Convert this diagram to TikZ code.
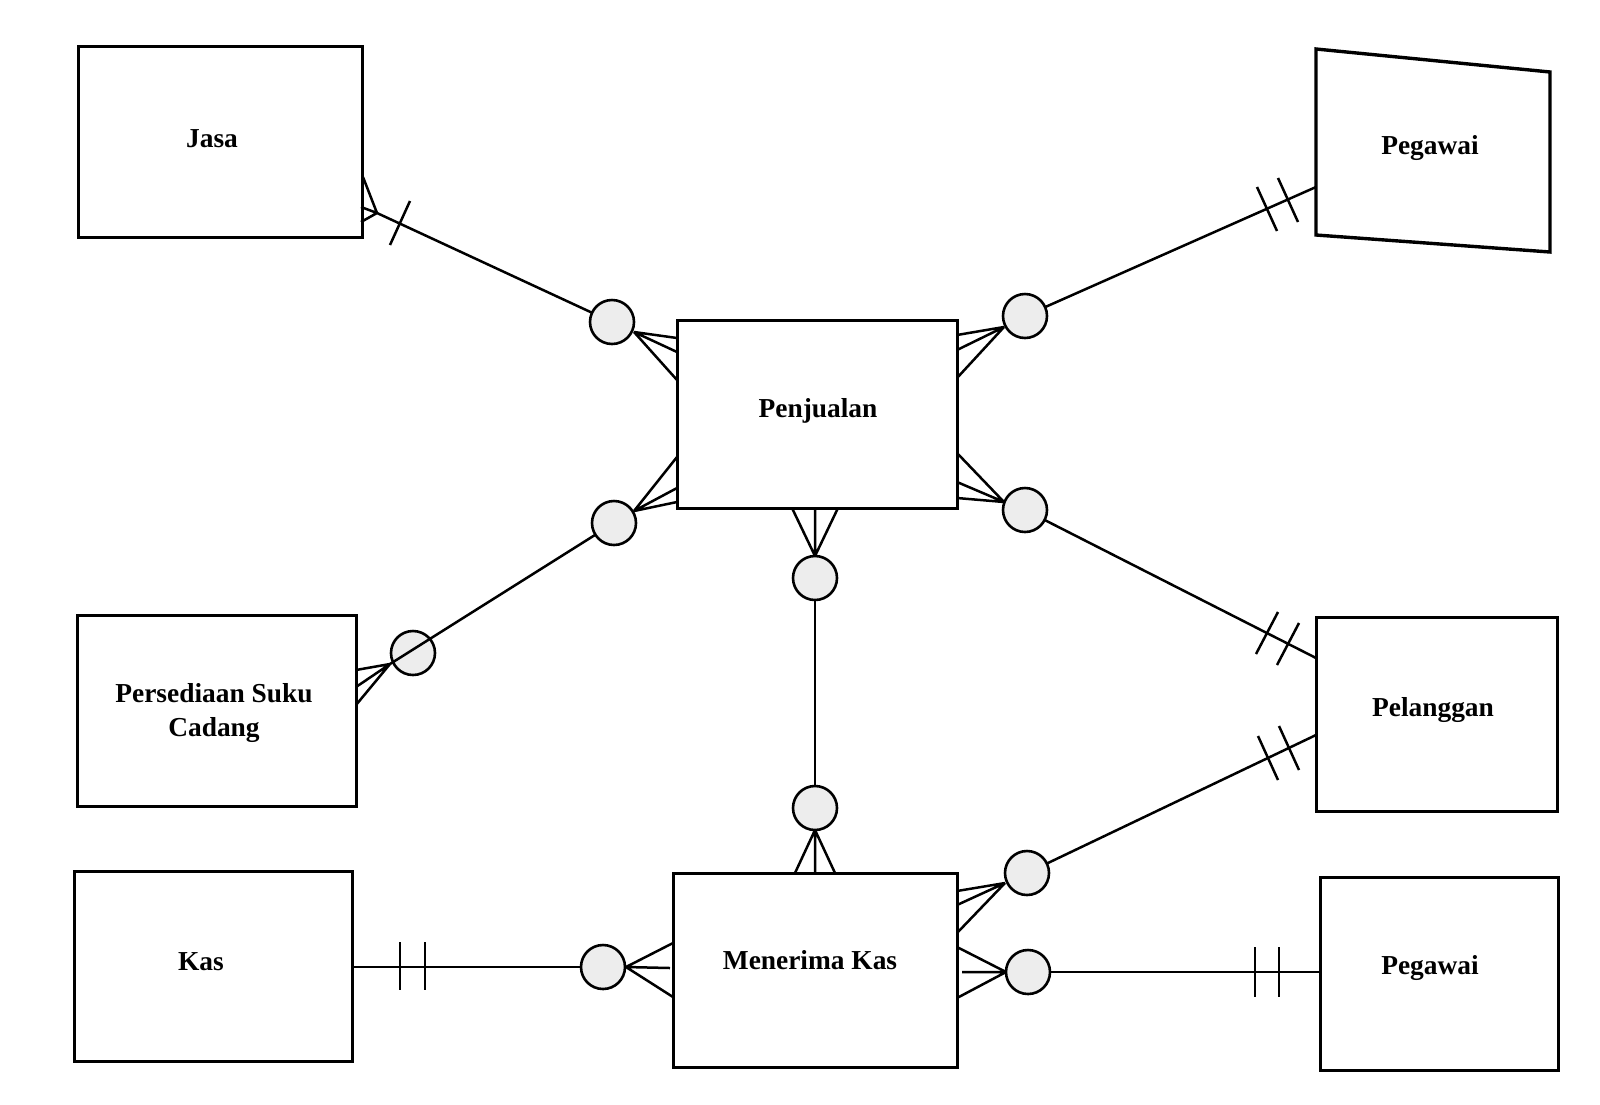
\documentclass[tikz,border=0pt]{standalone}
\usepackage{fontspec}
\setmainfont{Liberation Serif}
\begin{document}
\begin{tikzpicture}[x=0.5pt,y=-0.5pt,
  ent/.style={draw, line width=1.5pt, inner sep=0pt, outer sep=0pt},
  lbl/.style={font=\fontsize{13.7}{17}\selectfont\bfseries, inner sep=0pt, text height=9.3pt, text depth=0pt},
  lblm/.style={font=\fontsize{13.7}{17}\selectfont\bfseries, inner sep=0pt, align=center},
  oc/.style={circle, draw, line width=1.3pt, fill=black!7, minimum size=22pt, inner sep=0pt, outer sep=0pt},
  rel/.style={line width=1.25pt},
  bar/.style={line width=1.25pt}
]
\useasboundingbox (0,0) rectangle (1600,1104);
\fill[white] (0,0) rectangle (1600,1104);

% entity boxes
\node[ent, minimum width=142pt, minimum height=95.5pt] (jasa) at (220,141.5) {};
\node[ent, minimum width=140pt, minimum height=94pt] (penj) at (817,414) {};
\node[ent, minimum width=139.5pt, minimum height=95.5pt] (pers) at (216.5,710.5) {};
\node[ent, minimum width=120.5pt, minimum height=97pt] (pel) at (1436.5,714) {};
\node[ent, minimum width=139pt, minimum height=95pt] (kas) at (213,966) {};
\node[ent, minimum width=142pt, minimum height=97pt] (mk) at (815,970) {};
\node[ent, minimum width=119pt, minimum height=96.5pt] (pegB) at (1439,973.5) {};
\coordinate (pgq1) at (1316,49);
\coordinate (pgq2) at (1550,72);
\coordinate (pgq3) at (1550,252);
\coordinate (pgq4) at (1316,235);
\draw[line width=1.7pt] (pgq1) -- (pgq2) -- (pgq3) -- (pgq4) -- cycle;

% labels
\node[lbl] (jasaT) at (212,138) {Jasa};
\node[lbl] (pegAT) at (1430,145) {Pegawai};
\node[lbl] (penjT) at (818,408) {Penjualan};
\node[lblm] (persT) at (214,713) {Persediaan Suku\\Cadang};
\node[lbl] (pelT) at (1433,707) {Pelanggan};
\node[lbl] (kasT) at (201,961) {Kas};
\node[lbl] (mkT) at (810,960) {Menerima Kas};
\node[lbl] (pegBT) at (1430,965) {Pegawai};

% optional circles
\node[oc] (c1) at (612,322) {};
\node[oc] (c2) at (1025,316) {};
\node[oc] (c3) at (614,523) {};
\node[oc] (c4) at (413,653) {};
\node[oc] (c5) at (1025,510) {};
\node[oc] (c6) at (815,578) {};
\node[oc] (c7) at (815,808) {};
\node[oc] (c8) at (603,967) {};
\node[oc] (c9) at (1027,873) {};
\node[oc] (c10) at (1028,972) {};

% crow's foot tips and line ends
\coordinate (tJ) at (377,213);
\coordinate (t1) at (634,332);
\coordinate (t2) at (1004,327);
\coordinate (t3) at (634,511);
\coordinate (tP) at (390,664);
\coordinate (t5) at (1004,502);
\coordinate (t6) at (815,556);
\coordinate (t7) at (815,830);
\coordinate (t8) at (626,967);
\coordinate (t9) at (1005,883);
\coordinate (t10) at (1006,972);
\coordinate (pgA) at (1316,187);
\coordinate (plA) at (1316,658);
\coordinate (plB) at (1316,735);
\coordinate (pgBin) at (1320,972);
\coordinate (ksA) at (352,967);

% connectors
\draw[rel] (tJ) -- (c1);
\draw[rel] (c2) -- (pgA);
\draw[rel] (c3) -- (tP);
\draw[rel] (c5) -- (plA);
\draw[rel] (c6) -- (c7);
\draw[rel] (ksA) -- (c8);
\draw[rel] (c9) -- (plB);
\draw[rel] (c10) -- (pgBin);

% crow's feet
\draw[rel] (tJ) -- (363,177) (tJ) -- (361,207) (tJ) -- (361,222);
\draw[rel] (t1) -- (677,338) (t1) -- (677,352) (t1) -- (677,380);
\draw[rel] (t2) -- (957,335) (t2) -- (957,350) (t2) -- (957,378);
\draw[rel] (t3) -- (677,457) (t3) -- (677,488) (t3) -- (677,502);
\draw[rel] (tP) -- (356,670) (tP) -- (356,687) (tP) -- (356,705);
\draw[rel] (t5) -- (957,453) (t5) -- (957,482) (t5) -- (957,498);
\draw[rel] (t6) -- (792,508) (t6) -- (815,508) (t6) -- (838,508);
\draw[rel] (t7) -- (795,873) (t7) -- (815,873) (t7) -- (835,873);
\draw[rel] (t8) -- (673,943) (t8) -- (670,968) (t8) -- (673,997);
\draw[rel] (t9) -- (957,891) (t9) -- (957,905) (t9) -- (957,933);
\draw[rel] (t10) -- (957,947) (t10) -- (962,972) (t10) -- (957,998);

% one bars
\draw[bar] (410,201) -- (390,245);
\draw[bar] (1257,187) -- (1277,231);
\draw[bar] (1278,178) -- (1298,222);
\draw[bar] (1278,612) -- (1256,654);
\draw[bar] (1299,623) -- (1277,665);
\draw[bar] (1258,736) -- (1278,780);
\draw[bar] (1279,726) -- (1299,770);
\draw[bar] (1255,947) -- (1255,997);
\draw[bar] (1279,947) -- (1279,997);
\draw[bar] (400,942) -- (400,990);
\draw[bar] (425,942) -- (425,990);
\end{tikzpicture}
\end{document}
